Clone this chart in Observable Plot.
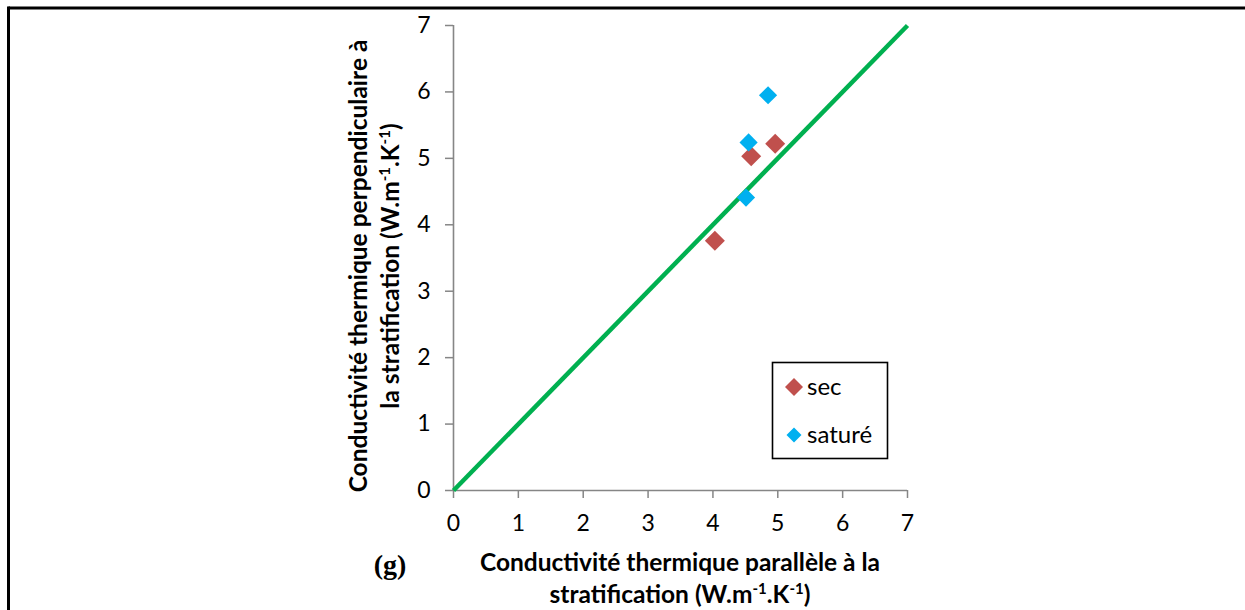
<!DOCTYPE html>
<html><head><meta charset="utf-8">
<script src="https://cdn.jsdelivr.net/npm/d3@7"></script>
<script src="https://cdn.jsdelivr.net/npm/@observablehq/plot@0.6"></script>
<style>
html,body{margin:0;padding:0;background:#fff;}
#chart{position:relative;width:1245px;height:610px;overflow:hidden;}
#chart svg{display:block;}
</style></head><body><div id="chart"></div>
<script>
// ---- data ----
const seriesNames = ["sec", "saturé"];
const seriesColors = ["#C0504D", "#00B0F0"];
const secX = [4.03, 4.59, 4.96];
const secY = [3.76, 5.03, 5.22];
const satX = [4.51, 4.55, 4.85];
const satY = [4.41, 5.24, 5.95];
const lineX = [0, 7];
const lineY = [0, 7];
const tickValues = [0, 1, 2, 3, 4, 5, 6, 7];
const xTitleLine1 = "Conductivité thermique parallèle à la";
const xTitleLine2 = "stratification ";
const yTitleLine1 = "Conductivité thermique perpendiculaire à";
const yTitleLine2 = "la stratification ";
const unitParts = [["(W.m", false], ["-1", true], [".K", false], ["-1", true], [")", false]];
const panelLabel = "(g)";

const sec = secX.map((x, i) => ({x, y: secY[i]}));
const sat = satX.map((x, i) => ({x, y: satY[i]}));
const diag = lineX.map((x, i) => ({x, y: lineY[i]}));

const plot = Plot.plot({
  width: 1245, height: 610,
  marginLeft: 453, marginRight: 338, marginTop: 25, marginBottom: 120,
  style: {fontFamily: "Lato", fontSize: "23px", background: "white", color: "black"},
  x: {domain: [0, 7], label: null},
  y: {domain: [0, 7], label: null},
  marks: [
    Plot.axisX({ticks: tickValues, tickFormat: d => String(d), tickSize: 8, tickPadding: 16, stroke: "#868686", strokeWidth: 1.5, fill: "black", label: null}),
    Plot.axisY({ticks: tickValues, tickFormat: d => String(d), tickSize: 8, tickPadding: 15, stroke: "#868686", strokeWidth: 1.5, fill: "black", label: null}),
    Plot.ruleY([0], {stroke: "#868686", strokeWidth: 1.6}),
    Plot.ruleX([0], {stroke: "#868686", strokeWidth: 1.6}),
    Plot.line(diag, {x: "x", y: "y", stroke: "#00B050", strokeWidth: 4.5, strokeLinecap: "butt"}),
    Plot.dot(sec, {x: "x", y: "y", symbol: "diamond2", r: 9, fill: seriesColors[0]}),
    Plot.dot(sat, {x: "x", y: "y", symbol: "diamond2", r: 8.2, fill: seriesColors[1]})
  ]
});
document.getElementById("chart").appendChild(plot);

const svg = d3.select(plot);
// frame border (top and left)
svg.append("line").attr("x1", 8.5).attr("x2", 1245).attr("y1", 8).attr("y2", 8).attr("stroke", "black").attr("stroke-width", 3);
svg.append("line").attr("x1", 8.5).attr("x2", 8.5).attr("y1", 6.5).attr("y2", 610).attr("stroke", "black").attr("stroke-width", 3);

function addUnit(textSel) {
  unitParts.forEach(([s, sup], i) => {
    const t = textSel.append("tspan").text(s);
    if (sup) t.attr("font-size", "15px").attr("dy", -9);
    else if (i > 0 && unitParts[i - 1][1]) t.attr("dy", 9);
  });
}

const titleFont = {family: "Lato", size: "24.5px", weight: "bold"};
// x title
const xt = svg.append("g").attr("font-family", titleFont.family).attr("font-size", titleFont.size).attr("font-weight", titleFont.weight).attr("text-anchor", "middle").attr("fill", "black");
xt.append("text").attr("x", 680).attr("y", 571).text(xTitleLine1);
const xl2 = xt.append("text").attr("x", 680).attr("y", 603);
xl2.append("tspan").text(xTitleLine2);
addUnit(xl2);

// y title
const yt = svg.append("g").attr("font-family", titleFont.family).attr("font-size", titleFont.size).attr("font-weight", titleFont.weight).attr("text-anchor", "middle").attr("fill", "black");
yt.append("text").attr("transform", "translate(367,266) rotate(-90)").text(yTitleLine1);
const yl2 = yt.append("text").attr("transform", "translate(399,266) rotate(-90)");
yl2.append("tspan").text(yTitleLine2);
addUnit(yl2);

// panel label
svg.append("text").attr("x", 390).attr("y", 574).attr("text-anchor", "middle")
  .attr("font-family", "Liberation Serif").attr("font-weight", "bold").attr("font-size", "28px").text(panelLabel);

// legend
const lg = svg.append("g").attr("text-anchor", "start");
lg.append("rect").attr("x", 772.5).attr("y", 362.5).attr("width", 115).attr("height", 96)
  .attr("fill", "white").attr("stroke", "black").attr("stroke-width", 1.6);
const legendY = [387, 435];
const legendSizes = [206, 144];
seriesNames.forEach((name, i) => {
  lg.append("path").attr("d", d3.symbol(d3.symbolDiamond2, legendSizes[i])())
    .attr("transform", `translate(794,${legendY[i]})`).attr("fill", seriesColors[i]);
  lg.append("text").attr("x", 807).attr("y", legendY[i] + 7.5).attr("font-family", "Lato").attr("font-size", "24px").attr("fill", "black").text(name);
});
</script>
</body></html>
